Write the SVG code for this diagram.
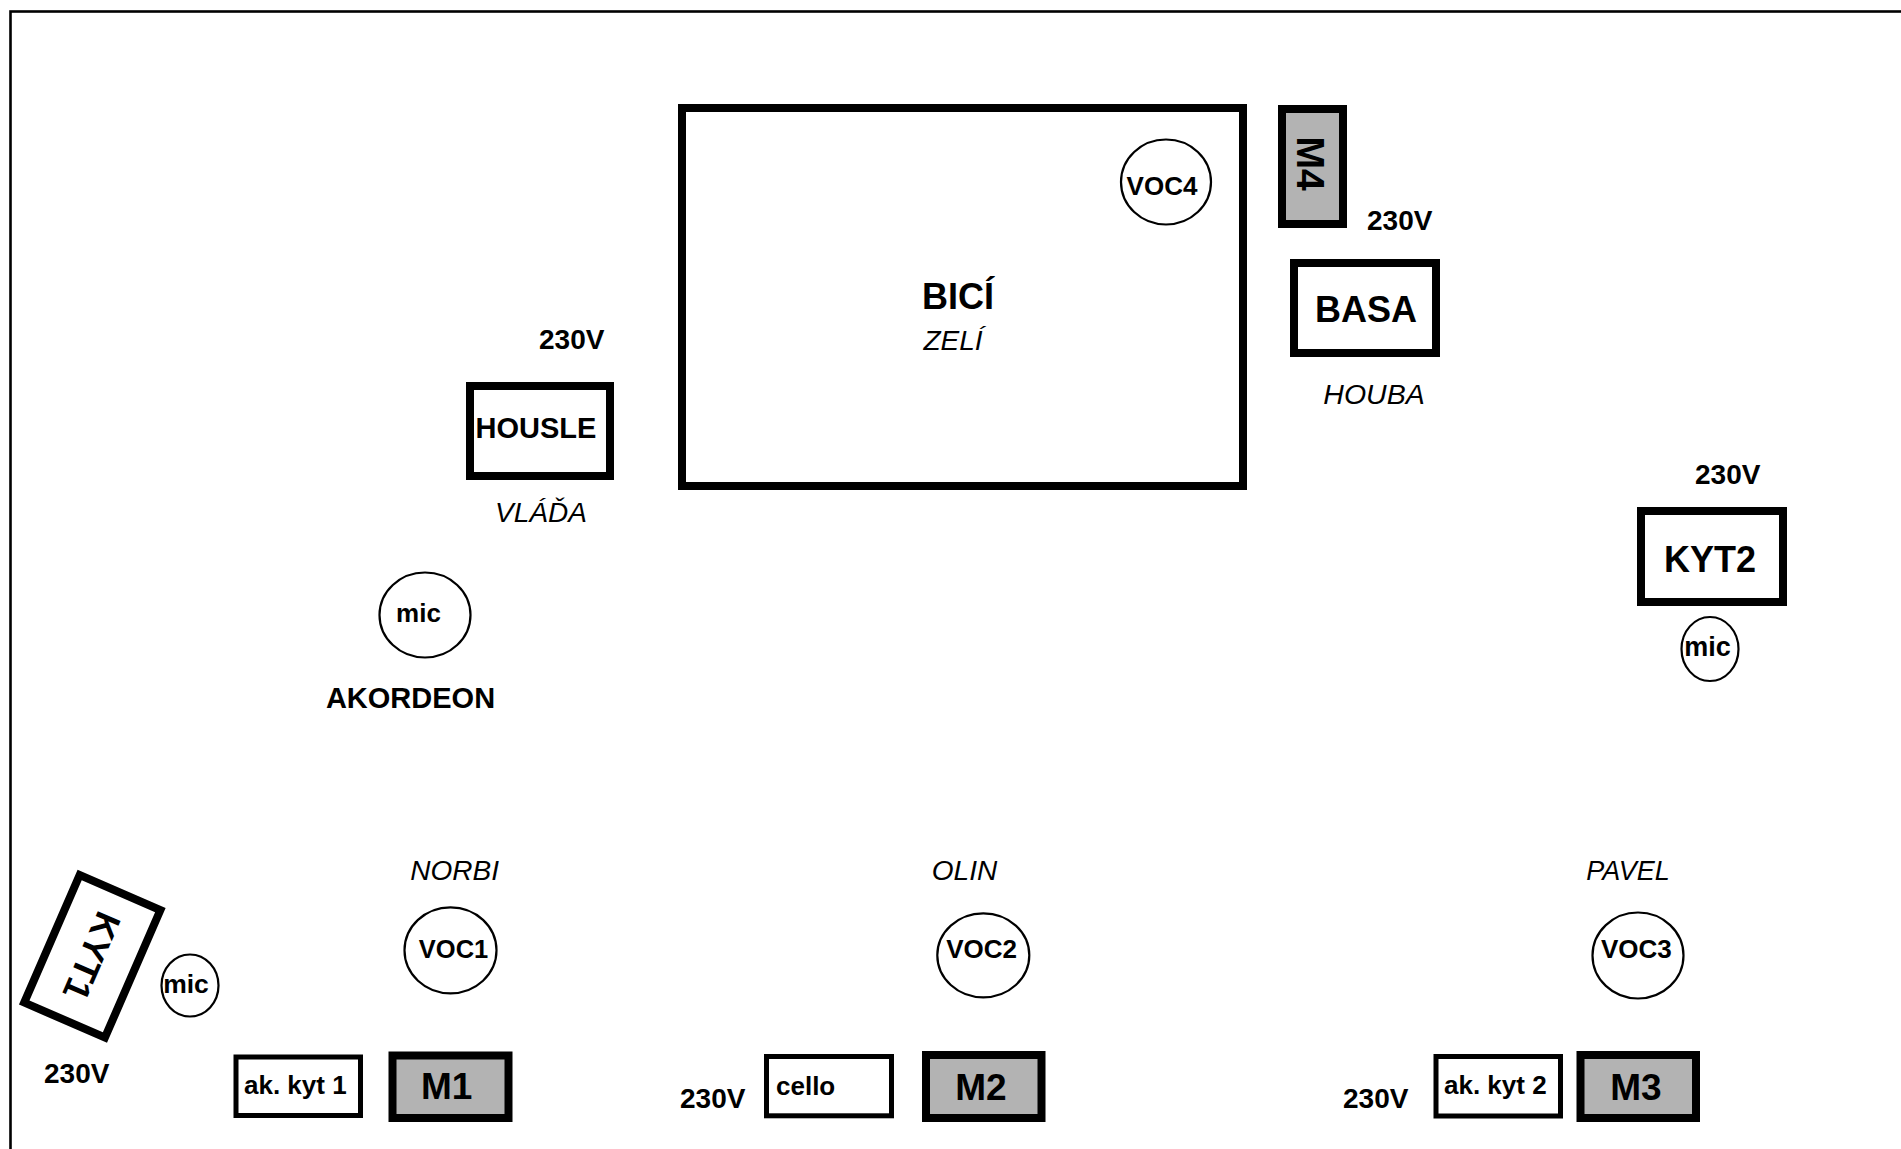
<svg xmlns="http://www.w3.org/2000/svg" width="1901" height="1149" viewBox="0 0 1901 1149">
<style>
text{font-family:"Liberation Sans",Arial,Helvetica,sans-serif;fill:#000}
.b{font-weight:bold}
.i{font-style:italic}
.v{font-size:28px;font-weight:bold}
.box{fill:#fff;stroke:#000;stroke-width:8}
.thin{fill:#fff;stroke:#000;stroke-width:5}
.mon{fill:#b3b3b3;stroke:#000;stroke-width:8}
.mic{fill:#fff;stroke:#000;stroke-width:2.2}
.mid{text-anchor:middle}
</style>
<rect x="0" y="0" width="1901" height="1149" fill="#fff"/>
<rect id="frame" x="10.5" y="11.5" width="2000" height="2000" fill="none" stroke="#000" stroke-width="2.6"/>
<g id="connectors"/>

<g id="bici">
<rect class="box" x="682" y="108" width="561" height="378"/>
<text class="b mid" x="958" y="309" font-size="36">BICÍ</text>
<text class="i mid" x="953" y="350" font-size="28">ZELÍ</text>
</g>
<g id="voc4">
<ellipse class="mic" cx="1166" cy="182" rx="45" ry="42.5"/>
<text class="b mid" x="1162" y="195" font-size="26">VOC4</text>
</g>
<g id="m4">
<rect class="mon" x="1282" y="109" width="61" height="115"/>
<text class="b mid" transform="translate(1311,163.5) rotate(90)" x="0" y="14" font-size="39">M4</text>
</g>
<text id="v230-m4" class="v" x="1367" y="230">230V</text>
<g id="basa">
<rect class="box" x="1294" y="263" width="142" height="90"/>
<text class="b mid" x="1366" y="322" font-size="36">BASA</text>
<text class="i mid" x="1374" y="404" font-size="28.5">HOUBA</text>
</g>
<text id="v230-kyt2" class="v" x="1695" y="484">230V</text>
<g id="kyt2">
<rect class="box" x="1641" y="511" width="142" height="91"/>
<text class="b mid" x="1710" y="572" font-size="36">KYT2</text>
</g>
<g id="mic-kyt2">
<ellipse class="mic" cx="1710" cy="649" rx="28.5" ry="32"/>
<text class="b mid" x="1707.5" y="656" font-size="27">mic</text>
</g>
<text id="v230-housle" class="v" x="539" y="349">230V</text>
<g id="housle">
<rect class="box" x="470" y="386" width="140" height="90"/>
<text class="b mid" x="536" y="438" font-size="29">HOUSLE</text>
<text class="i mid" x="541" y="522" font-size="28">VLÁĎA</text>
</g>
<g id="akordeon">
<ellipse class="mic" cx="425" cy="615" rx="45.5" ry="42.5"/>
<text class="b mid" x="418.5" y="622" font-size="26">mic</text>
<text class="b mid" x="410.5" y="708" font-size="29">AKORDEON</text>
</g>
<g id="kyt1" transform="translate(92.3,956.3) rotate(113.5)">
<rect class="box" x="-69.5" y="-44" width="139" height="88"/>
<text class="b mid" x="0" y="13" font-size="36">KYT1</text>
</g>
<g id="mic-kyt1">
<ellipse class="mic" cx="190" cy="985.5" rx="28.5" ry="31"/>
<text class="b mid" x="186" y="993" font-size="26.5">mic</text>
</g>
<text id="v230-kyt1" class="v" x="44" y="1083">230V</text>
<g id="voc1">
<text class="i mid" x="454.6" y="880" font-size="28">NORBI</text>
<ellipse class="mic" cx="450.5" cy="950.3" rx="46" ry="43"/>
<text class="b mid" x="453.6" y="957.7" font-size="25.5">VOC1</text>
</g>
<g id="akkyt1">
<rect class="thin" x="236" y="1057" width="124.5" height="58.5"/>
<text class="b" x="244" y="1094" font-size="26">ak. kyt 1</text>
</g>
<g id="m1">
<rect class="mon" x="392.5" y="1055.5" width="116" height="62.5"/>
<text class="b mid" x="446.6" y="1099" font-size="37">M1</text>
</g>
<g id="voc2">
<text class="i mid" x="964.5" y="880" font-size="28">OLIN</text>
<ellipse class="mic" cx="983.3" cy="955.3" rx="46" ry="42"/>
<text class="b mid" x="981.7" y="958.3" font-size="26">VOC2</text>
</g>
<text id="v230-cello" class="v" x="680" y="1108">230V</text>
<g id="cello">
<rect class="thin" x="766.5" y="1056.5" width="125" height="59.3"/>
<text class="b" x="776" y="1095" font-size="26">cello</text>
</g>
<g id="m2">
<rect class="mon" x="926" y="1055" width="115.5" height="63"/>
<text class="b mid" x="981" y="1099.5" font-size="37">M2</text>
</g>
<g id="voc3">
<text class="i mid" x="1628" y="880" font-size="27">PAVEL</text>
<ellipse class="mic" cx="1638" cy="955.5" rx="45.5" ry="43"/>
<text class="b mid" x="1636.4" y="957.7" font-size="26">VOC3</text>
</g>
<text id="v230-m3" class="v" x="1343" y="1108">230V</text>
<g id="akkyt2">
<rect class="thin" x="1436" y="1056.5" width="124.5" height="59.5"/>
<text class="b" x="1444" y="1094" font-size="26">ak. kyt 2</text>
</g>
<g id="m3">
<rect class="mon" x="1580.5" y="1055" width="115.5" height="63"/>
<text class="b mid" x="1636" y="1099.5" font-size="37">M3</text>
</g>
</svg>
